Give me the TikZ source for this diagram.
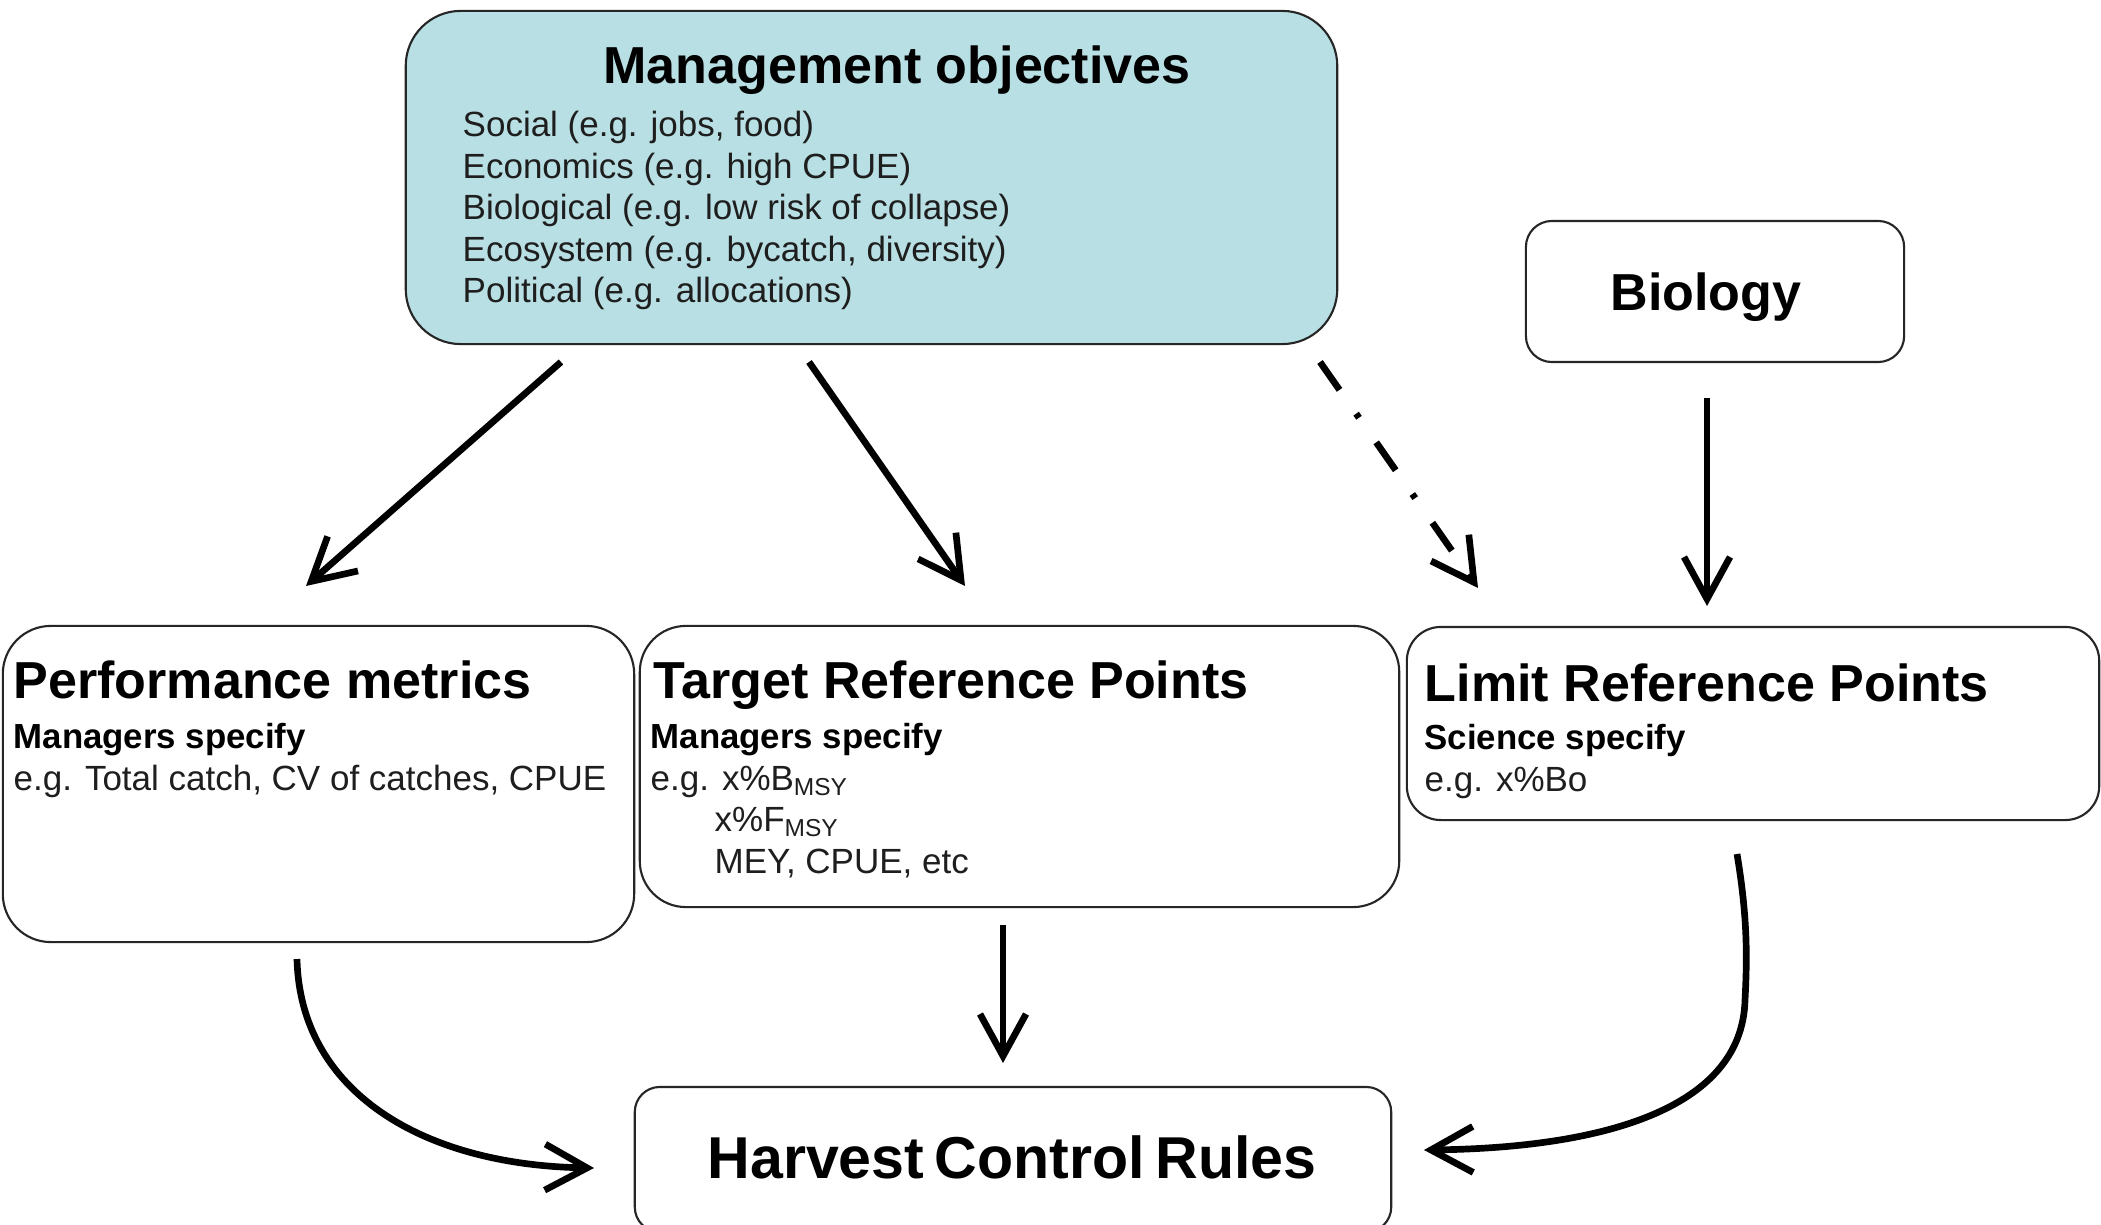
\documentclass[tikz,border=0pt]{standalone}
\usepackage{fontspec}
\setmainfont{Liberation Sans}
\usetikzlibrary{arrows.meta}
\definecolor{mgmtfill}{RGB}{184,223,227}
\definecolor{bodytext}{RGB}{30,30,30}
\begin{document}
\begin{tikzpicture}[x=0.01cm,y=-0.01cm,
  box/.style={draw=black!85, line width=0.6pt, inner sep=0pt, outer sep=0pt},
  bigtitle/.style={font=\fontsize{14.8}{17}\selectfont\bfseries, inner sep=0pt, anchor=base west},
  subttl/.style={font=\fontsize{9.9}{12}\selectfont\bfseries, inner sep=0pt, anchor=base west},
  body/.style={font=\fontsize{9.95}{12}\selectfont, inner sep=0pt, anchor=base west, text=bodytext},
  arr/.style={line width=1.9pt, -{Straight Barb[length=0.42cm,width=0.46cm]}},
]
\useasboundingbox (0,0) rectangle (2101,1225);
\fill[white] (0,0) rectangle (2101,1225);

% boxes
\node[box, fill=mgmtfill, minimum width=9.31cm, minimum height=3.33cm, rounded corners=0.55cm] (mgmt) at (871.5,177.5) {};
\node[box, minimum width=3.78cm, minimum height=1.41cm, rounded corners=0.26cm] (bio) at (1715,291.5) {};
\node[box, minimum width=6.31cm, minimum height=3.16cm, rounded corners=0.48cm] (perf) at (318.5,784) {};
\node[box, minimum width=7.59cm, minimum height=2.81cm, rounded corners=0.46cm] (target) at (1019.5,766.5) {};
\node[box, minimum width=6.92cm, minimum height=1.93cm, rounded corners=0.34cm] (limit) at (1753,723.5) {};
\node[box, minimum width=7.56cm, minimum height=1.45cm, rounded corners=0.25cm] (hcr) at (1013,1159.5) {};

% management objectives text
\node[bigtitle, anchor=base] (mgmtT) at (897,84) {Management objectives};
\node[body] (m1) at (462,137) {Social (e.g. jobs, food)};
\node[body] (m2) at (462,179) {Economics (e.g. high CPUE)};
\node[body] (m3) at (462,220) {Biological (e.g. low risk of collapse)};
\node[body] (m4) at (462,262) {Ecosystem (e.g. bycatch, diversity)};
\node[body] (m5) at (462,303) {Political (e.g. allocations)};

% biology
\node[bigtitle, anchor=base] (bioT) at (1706,311) {Biology};

% performance metrics
\node[bigtitle] (perfT) at (13,698) {Performance metrics};
\node[subttl] (perfS) at (13,748) {Managers specify};
\node[body] (perfB) at (13,790) {e.g. Total catch, CV of catches, CPUE};

% target reference points
\node[bigtitle] (tarT) at (653,698) {Target Reference Points};
\node[subttl] (tarS) at (650,748) {Managers specify};
\node[body] (tar1) at (650,790) {e.g. x\%B\textsubscript{MSY}};
\node[body] (tar2) at (714,831) {x\%F\textsubscript{MSY}};
\node[body] (tar3) at (714,873) {MEY, CPUE, etc};

% limit reference points
\node[bigtitle] (limT) at (1424,701) {Limit Reference Points};
\node[subttl] (limS) at (1424,749) {Science specify};
\node[body] (limB) at (1424,791) {e.g. x\%Bo};

% harvest control rules
\node[font=\fontsize{16.8}{20}\selectfont\bfseries, inner sep=0pt, anchor=base] (hcrT) at (1012,1178) {Harvest\hspace{0.18em}Control\hspace{0.18em}Rules};

% connector end points
\coordinate (a1s) at (561,362);   \coordinate (a1e) at (306,586);
\coordinate (a2s) at (809,362);   \coordinate (a2e) at (965,586);
\coordinate (a3s) at (1320,362);  \coordinate (a3e) at (1478,588);
\coordinate (a4s) at (1707,398);  \coordinate (a4e) at (1707,606);
\coordinate (a5s) at (1003,925);  \coordinate (a5e) at (1003,1063);
\coordinate (a6s) at (297,959);   \coordinate (a6e) at (594,1168);
\coordinate (a7s) at (1737,854);  \coordinate (a7m) at (1745,1000); \coordinate (a7e) at (1424,1150);

\draw[arr] (a1s) -- (a1e);
\draw[arr] (a2s) -- (a2e);
\draw[arr, dash pattern=on 0.34cm off 0.29cm on 0.05cm off 0.30cm] (a3s) -- (a3e);
\draw[arr] (a4s) -- (a4e);
\draw[arr] (a5s) -- (a5e);
\draw[arr] (a6s) .. controls (300,1090) and (420,1165) .. (a6e);
\draw[arr] (a7s) .. controls (1748,920) and (1747,960) .. (a7m) .. controls (1742,1110) and (1600,1148) .. (a7e);
\end{tikzpicture}
\end{document}
